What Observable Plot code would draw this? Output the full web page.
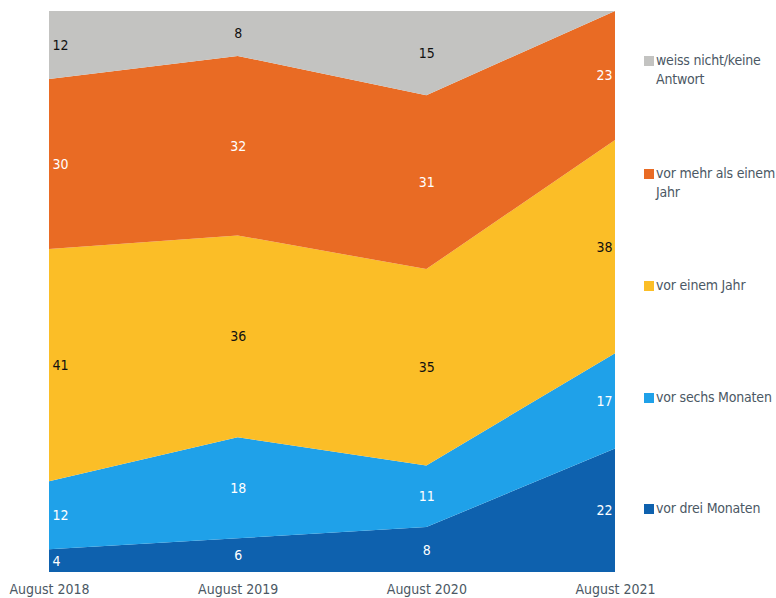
<!DOCTYPE html>
<html>
<head>
<meta charset="utf-8">
<script src="https://cdn.jsdelivr.net/npm/d3@7"></script>
<script src="https://cdn.jsdelivr.net/npm/@observablehq/plot@0.6"></script>
<style>
  body { margin: 0; background: #fff; }
  #wrap { position: relative; width: 776px; height: 598px; font-family: "DejaVu Sans Condensed", sans-serif; }
  .leg { position: absolute; left: 644px; font-size: 14px; line-height: 19px; color: #4b5864; letter-spacing: -0.2px; }
  .leg i { position: absolute; left: 0; top: 5px; width: 10px; height: 10px; }
  .leg span { display: block; margin-left: 12px; white-space: nowrap; }
</style>
</head>
<body>
<div id="wrap"></div>
<script>
const periods = ["August 2018", "August 2019", "August 2020", "August 2021"];
const categories = ["vor drei Monaten", "vor sechs Monaten", "vor einem Jahr", "vor mehr als einem Jahr", "weiss nicht/keine Antwort"];
const colors = ["#0e61ae", "#1fa1e9", "#fbbe27", "#e96b24", "#c3c3c1"];
const vorDreiMonaten = [4, 6, 8, 22];
const vorSechsMonaten = [12, 18, 11, 17];
const vorEinemJahr = [41, 36, 35, 38];
const vorMehrAlsEinemJahr = [30, 32, 31, 23];
const weissNicht = [12, 8, 15, 0];
const legendLines = [["weiss nicht/keine", "Antwort"], ["vor mehr als einem", "Jahr"], ["vor einem Jahr"], ["vor sechs Monaten"], ["vor drei Monaten"]];
const legendOrder = [4, 3, 2, 1, 0];

const series = [vorDreiMonaten, vorSechsMonaten, vorEinemJahr, vorMehrAlsEinemJahr, weissNicht];
const data = [];
series.forEach((vals, k) => vals.forEach((v, i) => data.push({i, cat: categories[k], value: v})));

const darkText = new Set(["vor einem Jahr", "weiss nicht/keine Antwort"]);
const stackOpts = {x: "i", y: "value", z: "cat", order: categories, offset: "normalize"};

function labels(pred, anchor, dx, color) {
  return Plot.text(data, Plot.stackY({
    ...stackOpts,
    text: d => (d.value > 0 && pred(d)) ? String(d.value) : null,
    textAnchor: anchor, dx, fill: color, fontSize: 14
  }));
}
const first = d => d.i === 0, last = d => d.i === 3, mid = d => d.i === 1 || d.i === 2;
const isDark = d => darkText.has(d.cat), isLight = d => !darkText.has(d.cat);

const chart = Plot.plot({
  width: 776, height: 598,
  marginLeft: 49, marginRight: 161, marginTop: 11, marginBottom: 26,
  style: {fontFamily: '"DejaVu Sans Condensed", sans-serif', fontSize: "14px", color: "#4b5864", background: "#fff"},
  x: {type: "linear", domain: [0, 3], axis: null},
  y: {axis: null, domain: [0, 1]},
  color: {domain: categories, range: colors},
  marks: [
    Plot.areaY(data, {...stackOpts, fill: "cat"}),
    Plot.axisX({ticks: [0, 1, 2, 3], tickFormat: i => periods[i], tickSize: 0, tickPadding: 12, fontSize: 14, fill: "#4b5864", label: null}),
    labels(d => first(d) && isDark(d), "start", 3, "#111"),
    labels(d => first(d) && isLight(d), "start", 3, "#fff"),
    labels(d => mid(d) && isDark(d), "middle", 0, "#111"),
    labels(d => mid(d) && isLight(d), "middle", 0, "#fff"),
    labels(d => last(d) && isDark(d), "end", -3, "#111"),
    labels(d => last(d) && isLight(d), "end", -3, "#fff")
  ]
});
const wrap = document.getElementById("wrap");
wrap.appendChild(chart);

const tops = [51, 164, 276, 388, 499];
legendOrder.forEach((k, j) => {
  const div = document.createElement("div");
  div.className = "leg";
  div.style.top = tops[j] + "px";
  const sw = document.createElement("i");
  sw.style.background = colors[k];
  div.appendChild(sw);
  legendLines[j].forEach(t => { const s = document.createElement("span"); s.textContent = t; div.appendChild(s); });
  wrap.appendChild(div);
});
</script>
</body>
</html>
